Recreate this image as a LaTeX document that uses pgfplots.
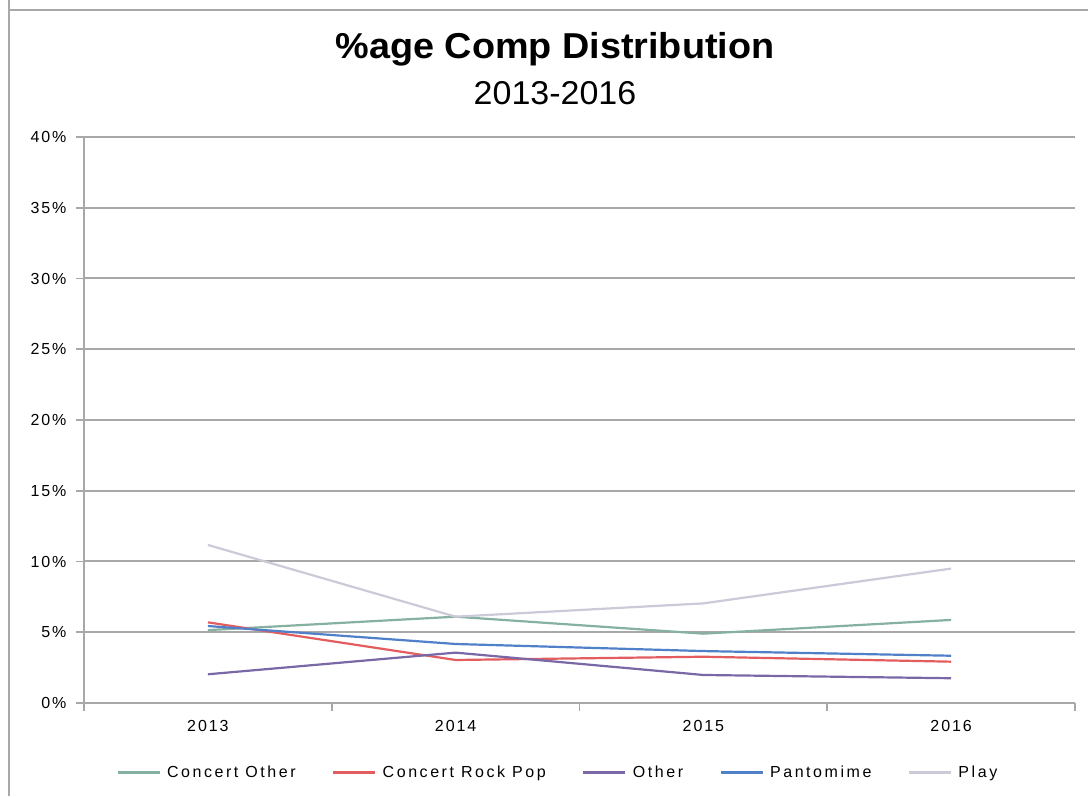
\documentclass[border=0pt]{standalone}
\usepackage{pgfplots}
\pgfplotsset{compat=1.18}
\usepackage{fontspec}
\setmainfont{Liberation Sans}
\newfontfamily\spaced[LetterSpace=12]{Liberation Sans}
\newfontfamily\spacedl[LetterSpace=16]{Liberation Sans}
\definecolor{cother}{HTML}{86B0A0}
\definecolor{crock}{HTML}{E35D5F}
\definecolor{oth}{HTML}{7A68A6}
\definecolor{panto}{HTML}{5080C8}
\definecolor{play}{HTML}{CACAD8}
\definecolor{gridc}{HTML}{A8A8A8}
\begin{document}
\begin{tikzpicture}[x=1pt,y=1pt]
\path[use as bounding box] (0,0) rectangle (1088,796);
\draw[gridc, line width=2pt] (9,800) -- (9,0);
\draw[gridc, line width=2pt] (8,786) -- (1090,786);
\node[font=\fontsize{36}{40}\selectfont\bfseries, xscale=1.05] at (555,747) {\%age Comp Distribution};
\node[font=\fontsize{33}{36}\selectfont, xscale=1.03] at (555,703) {2013-2016};
\begin{axis}[
  at={(84pt,93pt)}, anchor=south west,
  scale only axis, width=991pt, height=566pt,
  xmin=-0.5, xmax=3.5, ymin=0, ymax=40,
  axis x line*=bottom, axis y line*=left,
  axis line style={gridc, line width=1.6pt, -},
  xtick={0,1,2,3}, xticklabels={2013,2014,2015,2016},
  minor xtick={-0.5,0.5,1.5,2.5,3.5},
  major x tick style={draw=none},
  minor tick length=8pt, major tick length=8pt,
  tick align=outside,
  tick style={gridc, line width=1.6pt},
  ytick={0,5,...,40},
  yticklabel={\pgfmathprintnumber{\tick}\%},
  /pgf/number format/assume math mode=true,
  ticklabel style={font=\spaced\fontsize{16}{18}\selectfont},
  yticklabel style={xshift=-6pt},
  xticklabel style={yshift=-6pt},
  ymajorgrids, grid style={gridc, line width=2pt},
  legend columns=5,
  legend style={at={(0.478,-0.122)}, anchor=center, draw=none, fill=none,
    font=\spacedl\fontsize{16}{18}\selectfont,
    /tikz/every odd column/.append style={column sep=4pt},
    /tikz/every even column/.append style={column sep=34pt}},
  legend image code/.code={\draw[#1, line width=3pt] (0pt,0pt) -- (42pt,0pt);},
  every axis plot/.append style={line width=2.2pt},
]
\addplot[cother] coordinates {(0,5.15) (1,6.1) (2,4.9) (3,5.87)};
\addlegendentry{Concert Other}
\addplot[crock] coordinates {(0,5.7) (1,3.04) (2,3.27) (3,2.92)};
\addlegendentry{Concert Rock Pop}
\addplot[oth] coordinates {(0,2.03) (1,3.56) (2,1.98) (3,1.75)};
\addlegendentry{Other}
\addplot[panto] coordinates {(0,5.44) (1,4.17) (2,3.67) (3,3.34)};
\addlegendentry{Pantomime}
\addplot[play] coordinates {(0,11.17) (1,6.1) (2,7.04) (3,9.5)};
\addlegendentry{Play}
\end{axis}
\end{tikzpicture}
\end{document}
